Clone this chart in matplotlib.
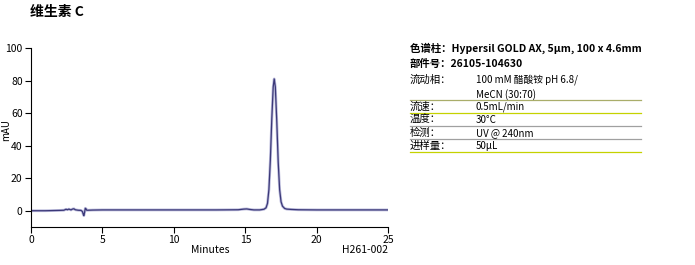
import matplotlib
matplotlib.use("Agg")
import matplotlib.pyplot as plt
from matplotlib.lines import Line2D

plt.rcParams['font.family'] = ['Noto Sans CJK SC', 'DejaVu Sans']

# chromatogram trace (minutes, mAU)
time = [0, 0.5, 1, 1.5, 2, 2.3, 2.45, 2.55, 2.65, 2.8, 2.9, 3.0, 3.1, 3.3, 3.5,
        3.6, 3.65, 3.7, 3.75, 3.8, 3.85, 3.9, 4.0, 4.3, 5, 7, 9, 11, 13, 14.5,
        14.9, 15.1, 15.3, 15.6, 16.0, 16.3, 16.45, 16.55, 16.65, 16.75, 16.85,
        16.95, 17.02, 17.1, 17.2, 17.3, 17.4, 17.5, 17.6, 17.75, 17.9, 18.2,
        18.7, 20, 22, 25]
mau = [0, 0, 0, 0.1, 0.2, 0.3, 0.9, 0.6, 1.0, 0.5, 1.0, 1.2, 0.6, 0.3, 0.2,
       -0.5, -2.0, -3.0, -1.0, 1.5, 1.2, 0.3, 0.3, 0.4, 0.5, 0.5, 0.5, 0.5, 0.5, 0.6,
       1.0, 1.1, 0.8, 0.5, 0.5, 0.9, 1.8, 4.5, 13, 31, 56,
       76, 81, 76, 55, 30, 13, 5.5, 2.8, 1.4, 1.0, 0.8,
       0.6, 0.5, 0.5, 0.5]

x_ticks = [0, 5, 10, 15, 20, 25]
y_ticks = [0, 20, 40, 60, 80, 100]

title = "维生素 C"
header = ["色谱柱：Hypersil GOLD AX, 5μm, 100 x 4.6mm", "部件号：26105-104630"]
labels = ["流动相：", "流速：", "温度：", "检测：", "进样量："]
values = ["100 mM 醋酸铵 pH 6.8/\nMeCN (30:70)", "0.5mL/min", "30°C", "UV @ 240nm", "50μL"]

fig = plt.figure(figsize=(6.95, 2.65), dpi=100)
ax = fig.add_axes([0.0446, 0.1434, 0.514, 0.6755])

ax.plot(time, mau, color="#bcbcdc", linewidth=2.0)
ax.plot(time, mau, color="#3b3878", linewidth=0.9)

ax.set_xlim(0, 25)
ax.set_ylim(-10, 100)
ax.set_xticks(x_ticks)
ax.set_yticks(y_ticks)
ax.spines['top'].set_visible(False)
ax.spines['right'].set_visible(False)
ax.tick_params(labelsize=7.5, length=4, width=0.8, pad=2)


def fy(py):
    return 1 - py / 265


fig.text(6 / 695, fy(130), "mAU", fontsize=7, rotation=90, ha="center", va="center")
fig.text(210 / 695, fy(250), "Minutes", fontsize=7.5, ha="center", va="center")
fig.text(388 / 695, fy(250), "H261-002", fontsize=7.5, ha="right", va="center")

fig.text(30 / 695, fy(12), title, fontsize=10, fontweight="bold", va="center")

# info panel on the right
fig.text(410 / 695, fy(48), header[0], fontsize=7.5, fontweight="bold", va="center")
fig.text(410 / 695, fy(64), header[1], fontsize=7.5, fontweight="bold", va="center")

row_y = [80, 107, 120, 133, 146]
for lab, val, yy in zip(labels, values, row_y):
    fig.text(410 / 695, fy(yy), lab, fontsize=7.5, va="center")
    if "\n" in val:
        fig.text(476 / 695, fy(yy - 6), val, fontsize=7, va="top", linespacing=1.45)
    else:
        fig.text(476 / 695, fy(yy), val, fontsize=7, va="center")

rule_y = [100, 113, 126, 139, 152]
rule_c = ["#a9ad6a", "#c5d200", "#a0a0a0", "#a0a0a0", "#c5d200"]
for yy, c in zip(rule_y, rule_c):
    fig.add_artist(Line2D([410 / 695, 641 / 695], [fy(yy), fy(yy)], color=c, linewidth=0.9))

fig.savefig("out.png", dpi=100)
